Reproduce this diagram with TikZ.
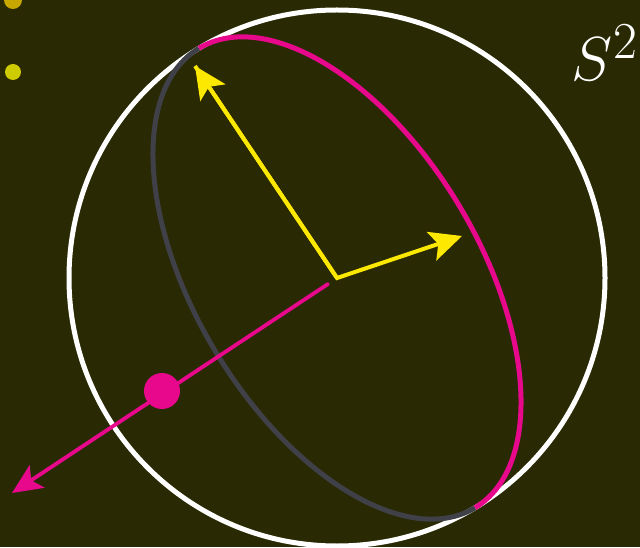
\documentclass[tikz,border=0pt]{standalone}
\usetikzlibrary{arrows.meta, positioning, calc}
\definecolor{bgolive}{RGB}{41,41,3}
\definecolor{hotpink}{RGB}{232,8,140}
\definecolor{rimgray}{RGB}{64,64,72}
\definecolor{vecyellow}{RGB}{252,232,0}
\definecolor{dotyellow}{RGB}{206,204,0}
\definecolor{dotamber}{RGB}{200,168,0}

\begin{document}
\begin{tikzpicture}[
    x=1pt, y=1pt,
    sphere/.style={draw=white, line width=5pt},
    rim/.style={line width=5pt},
    frame/.style={draw=vecyellow, line width=4pt, ->},
    axis/.style={draw=hotpink, line width=3.8pt, ->, line cap=round},
    >={Stealth[length=32pt, width=30pt, inset=7pt]}
  ]
  % background
  \fill[bgolive] (0,0) rectangle (640,547);
  \useasboundingbox (0,0) rectangle (640,547);

  % corner dots
  \fill[dotamber] (13,547) circle (9);
  \fill[dotyellow] (13,475) circle (8);

  % sphere outline
  \coordinate (O) at (337,269);
  \draw[sphere] (O) circle (268);

  % great circle, front and back halves
  \begin{scope}[shift={(O)}, rotate=121]
    \draw[rim, rimgray] (268,0) arc[start angle=0, end angle=180,
                                    x radius=268, y radius=142];
    \draw[rim, hotpink] (268,0) arc[start angle=0, end angle=-180,
                                    x radius=268, y radius=142];
  \end{scope}

  % tangent frame
  \coordinate (e1) at (195,481);
  \coordinate (e2) at (462,311);
  \draw[frame, line join=miter] (e1) -- (O) -- (e2);
  \draw[frame] (O) -- (e1);

  % normal axis and point
  \coordinate (n0) at (328,263);
  \coordinate (n1) at (12,54);
  \draw[axis, >={Stealth[length=30pt, width=27pt, inset=7pt]}] (n0) -- (n1);
  \fill[hotpink] (162,156) circle (18);

  % label
  \node[text=white, font=\Huge, scale=2.5] (lbl) at (605,494) {$S^2$};
\end{tikzpicture}
\end{document}
